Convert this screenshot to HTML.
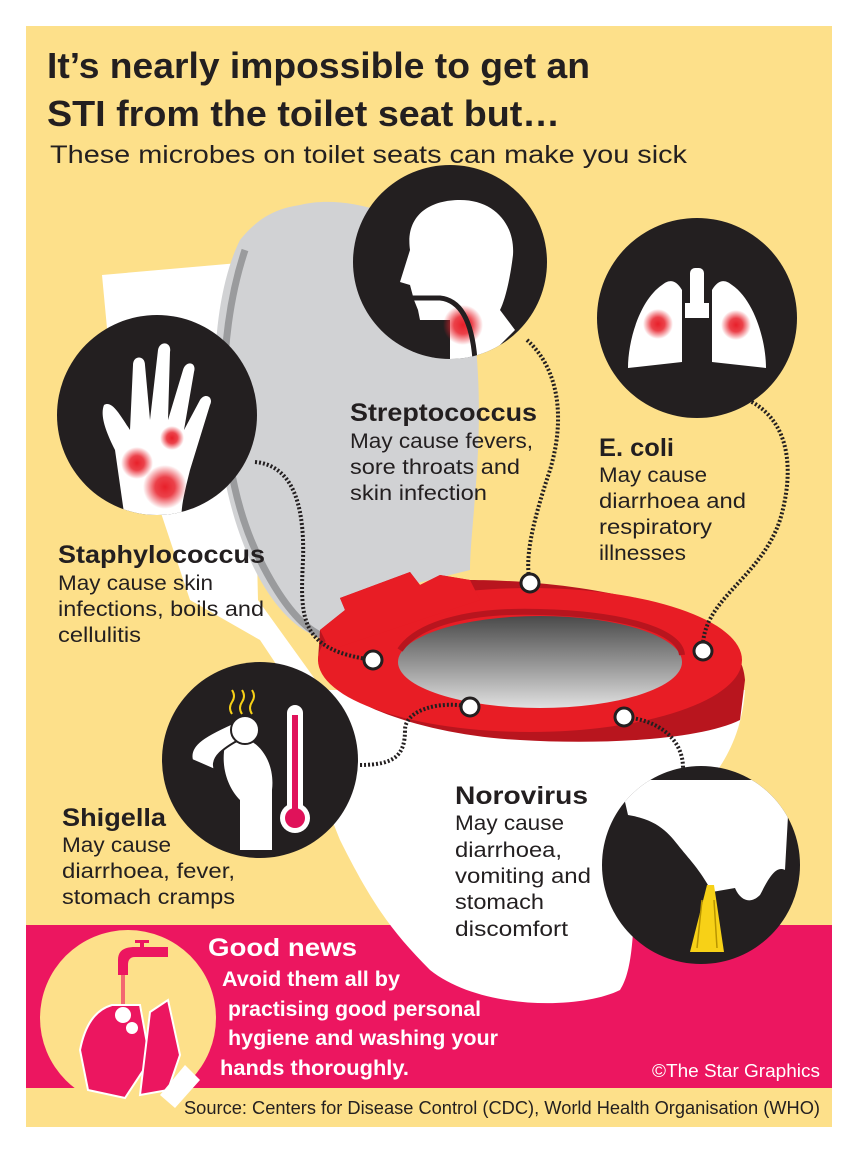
<!DOCTYPE html>
<html><head><meta charset="utf-8"><style>
html,body{margin:0;padding:0;background:#fff;}
svg{display:block;}
text{font-family:"Liberation Sans",sans-serif;}
</style></head><body>
<svg width="858" height="1150" viewBox="0 0 858 1150" xmlns="http://www.w3.org/2000/svg">
<defs>
<radialGradient id="rd"><stop offset="0" stop-color="#e8202a"/><stop offset="0.45" stop-color="#e8202a" stop-opacity="0.85"/><stop offset="1" stop-color="#e8202a" stop-opacity="0"/></radialGradient>
<linearGradient id="hole" x1="0" y1="0" x2="0" y2="1"><stop offset="0" stop-color="#4a4a4a"/><stop offset="0.55" stop-color="#9a9a9a"/><stop offset="1" stop-color="#e0e0e0"/></linearGradient>
<clipPath id="cHand"><circle cx="157" cy="415" r="100"/></clipPath>
<clipPath id="cHead"><circle cx="450" cy="262" r="97"/></clipPath>
<clipPath id="cLung"><circle cx="697" cy="318" r="100"/></clipPath>
<clipPath id="cShig"><circle cx="260" cy="760" r="98"/></clipPath>
<clipPath id="cNoro"><circle cx="701" cy="865" r="99"/></clipPath>
<clipPath id="cBand"><rect x="26" y="925" width="806" height="163"/></clipPath>
</defs>
<rect x="26" y="26" width="806" height="1101" fill="#fde08a"/>
<rect x="26" y="925" width="806" height="163" fill="#ec1660"/>

<!-- tank -->
<path d="M102 275 L250 262 L258 600 L330 700 L300 700 L260 640 L190 600 L110 360 Z" fill="#fff"/>
<!-- lid -->
<path d="M300 205 C360 190 460 230 470 300 C490 420 470 520 470 570 L350 600 L335 640 C300 640 260 600 235 520 C205 420 210 300 240 240 C260 215 280 208 300 205 Z" fill="#d1d2d4"/>
<path d="M245 250 C215 340 215 470 260 560 C280 600 300 625 320 635" stroke="#9a9b9d" stroke-width="7" fill="none"/>
<!-- bowl -->
<path d="M300 690 L745 690 C740 760 700 800 640 840 C630 880 640 960 620 990 C580 1010 480 1010 430 970 C390 930 370 900 340 840 C320 790 300 740 300 690 Z" fill="#fff"/>
<!-- seat -->
<path d="M320 630 L345 610 L340 598 L410 572 L420 585 L440 575 L470 580 C560 580 740 600 745 680 L740 720 C700 740 600 745 520 740 C420 735 325 700 318 660 Z" fill="#b8151e"/>
<ellipse cx="530" cy="660" rx="212" ry="72" fill="#e81d25"/>
<path d="M320 630 L345 610 L340 598 L410 572 L420 585 L440 575 L470 580 L480 600 L330 650 Z" fill="#e81d25"/>
<ellipse cx="540" cy="662" rx="142" ry="46" fill="url(#hole)"/>
<path d="M400 650 C420 620 480 610 540 612 C620 614 680 630 682 655" stroke="#b8151e" stroke-width="6" fill="none"/>

<!-- connectors -->
<g stroke="#231f20" stroke-width="4" stroke-dasharray="2 2" fill="none">
<path d="M255 462 C290 465 305 500 303 560 C300 620 300 650 373 660"/>
<path d="M527 340 C560 370 565 420 550 470 C530 530 525 560 530 583"/>
<path d="M748 400 C790 420 795 470 780 520 C760 580 700 600 703 651"/>
<path d="M360 765 C395 765 405 755 405 730 C405 710 440 700 470 707"/>
<path d="M624 717 C660 720 683 740 683 768"/>
</g>
<g fill="#fff" stroke="#231f20" stroke-width="3">
<circle cx="373" cy="660" r="9"/><circle cx="530" cy="583" r="9"/><circle cx="703" cy="651" r="9"/><circle cx="470" cy="707" r="9"/><circle cx="624" cy="717" r="9"/>
</g>

<!-- hand circle -->
<circle cx="157" cy="415" r="100" fill="#231f20"/>
<g clip-path="url(#cHand)">
<path d="M125 520 L115 450 C105 430 100 415 104 405 C112 400 120 415 130 430 L133 365 C133 355 145 355 145 365 L150 420 L158 350 C160 340 172 342 170 352 L168 420 L183 370 C186 360 197 362 194 372 L184 430 L200 400 C205 392 214 397 210 405 L190 470 C185 490 180 510 182 520 Z" fill="#fff"/>
<circle cx="165" cy="487" r="22" fill="url(#rd)"/>
<circle cx="137" cy="463" r="16" fill="url(#rd)"/>
<circle cx="172" cy="438" r="12" fill="url(#rd)"/>
</g>
<!-- head circle -->
<circle cx="450" cy="262" r="97" fill="#231f20"/>
<g clip-path="url(#cHead)">
<path d="M410 250 C405 215 430 200 460 200 C495 200 515 225 513 255 C510 280 505 300 500 310 L515 330 L465 380 L450 370 L450 320 L420 320 L418 310 L414 300 L410 285 L400 282 Z" fill="#fff"/>
<circle cx="463" cy="325" r="20" fill="url(#rd)"/>
<path d="M405 298 L440 298 C460 300 472 320 475 360" stroke="#231f20" stroke-width="5" fill="none"/>
</g>
<!-- lungs circle -->
<circle cx="697" cy="318" r="100" fill="#231f20"/>
<g clip-path="url(#cLung)">
<path d="M662 285 C640 300 628 340 628 368 L682 362 L682 290 C675 278 668 280 662 285 Z" fill="#fff"/>
<path d="M732 285 C754 300 766 340 766 368 L712 362 L712 290 C719 278 726 280 732 285 Z" fill="#fff"/>
<rect x="690" y="268" width="14" height="50" rx="5" fill="#fff"/>
<rect x="685" y="303" width="24" height="15" fill="#fff"/>
<circle cx="658" cy="324" r="15" fill="url(#rd)"/>
<circle cx="736" cy="325" r="15" fill="url(#rd)"/>
</g>
<!-- shigella circle -->
<circle cx="260" cy="760" r="98" fill="#231f20"/>
<g clip-path="url(#cShig)">
<path d="M225 745 C220 770 230 790 240 800 L240 850 L272 850 L272 790 C275 765 262 745 248 740 Z" fill="#fff"/>
<path d="M192 760 C188 745 205 735 240 720 L248 735 C222 748 210 758 215 770 Z" fill="#fff" stroke="#231f20" stroke-width="2"/>
<circle cx="245" cy="730" r="14" fill="#fff" stroke="#231f20" stroke-width="2"/>
<rect x="287" y="705" width="16" height="110" rx="8" fill="#fff"/>
<circle cx="295" cy="818" r="15" fill="#fff"/>
<rect x="292" y="715" width="6" height="100" fill="#e0125a"/>
<circle cx="295" cy="818" r="10" fill="#e0125a"/>
<path d="M232 690 q4 6 0 12 q-4 6 0 12 M242 690 q4 6 0 12 q-4 6 0 12 M252 690 q4 6 0 12 q-4 6 0 12" stroke="#f7d117" stroke-width="2" fill="none"/>
</g>
<!-- norovirus circle -->
<circle cx="701" cy="865" r="99" fill="#231f20"/>
<g clip-path="url(#cNoro)">
<path d="M620 780 L790 780 L785 870 C775 865 768 880 760 895 C750 905 740 900 735 888 L712 892 C700 870 690 860 682 850 C670 835 660 820 628 815 Z" fill="#fff"/>
<path d="M707 885 L714 885 L724 952 L690 952 Z" fill="#f7d117"/>
<path d="M702 900 L697 948 M714 900 L717 948" stroke="#b89400" stroke-width="1.5"/>
</g>
<!-- wash circle -->
<g clip-path="url(#cBand)">
<circle cx="128" cy="1018" r="88" fill="#fde08a"/>
</g>
<g>
<path d="M118 975 L118 960 C118 950 125 947 135 947 L168 947 L168 957 L135 957 C130 957 128 960 128 965 L128 975 Z" fill="#ec1660"/>
<rect x="140" y="940" width="4" height="10" fill="#ec1660"/><rect x="135" y="940" width="14" height="3" fill="#ec1660"/>
<rect x="121" y="975" width="4" height="30" fill="#ec1660" opacity="0.6"/>
<path d="M88 1090 L80 1050 C85 1025 95 1010 112 1005 L140 1005 L150 1060 L125 1098 Z" fill="#ec1660" stroke="#fff" stroke-width="2"/>
<path d="M150 1012 L168 1000 L180 1055 L168 1090 L140 1095 Z" fill="#ec1660" stroke="#fff" stroke-width="2"/>
<circle cx="123" cy="1015" r="8" fill="#fff"/><circle cx="132" cy="1028" r="6" fill="#fff"/>
<path d="M160 1095 L185 1065 L200 1080 L175 1108 Z" fill="#fff"/>
</g>

<!-- title -->
<text x="47" y="78" font-size="36" font-weight="bold" fill="#231f20" textLength="543" lengthAdjust="spacingAndGlyphs">It’s nearly impossible to get an</text>
<text x="47" y="126" font-size="36" font-weight="bold" fill="#231f20" textLength="513" lengthAdjust="spacingAndGlyphs">STI from the toilet seat but…</text>
<text x="50" y="163" font-size="25" fill="#231f20" textLength="637" lengthAdjust="spacingAndGlyphs">These microbes on toilet seats can make you sick</text>

<g fill="#231f20">
<text x="58" y="563" font-size="25" font-weight="bold" textLength="207" lengthAdjust="spacingAndGlyphs">Staphylococcus</text>
<text x="58" y="590" font-size="21" textLength="155" lengthAdjust="spacingAndGlyphs">May cause skin</text>
<text x="58" y="616" font-size="21" textLength="206" lengthAdjust="spacingAndGlyphs">infections, boils and</text>
<text x="58" y="642" font-size="21" textLength="83" lengthAdjust="spacingAndGlyphs">cellulitis</text>

<text x="350" y="421" font-size="25" font-weight="bold" textLength="187" lengthAdjust="spacingAndGlyphs">Streptococcus</text>
<text x="350" y="448" font-size="21" textLength="183" lengthAdjust="spacingAndGlyphs">May cause fevers,</text>
<text x="350" y="474" font-size="21" textLength="170" lengthAdjust="spacingAndGlyphs">sore throats and</text>
<text x="350" y="500" font-size="21" textLength="137" lengthAdjust="spacingAndGlyphs">skin infection</text>

<text x="599" y="456" font-size="25" font-weight="bold" textLength="75" lengthAdjust="spacingAndGlyphs">E. coli</text>
<text x="599" y="482" font-size="21" textLength="108" lengthAdjust="spacingAndGlyphs">May cause</text>
<text x="599" y="508" font-size="21" textLength="147" lengthAdjust="spacingAndGlyphs">diarrhoea and</text>
<text x="599" y="534" font-size="21" textLength="113" lengthAdjust="spacingAndGlyphs">respiratory</text>
<text x="599" y="560" font-size="21" textLength="87" lengthAdjust="spacingAndGlyphs">illnesses</text>

<text x="62" y="826" font-size="25" font-weight="bold" textLength="104" lengthAdjust="spacingAndGlyphs">Shigella</text>
<text x="62" y="852" font-size="21" textLength="109" lengthAdjust="spacingAndGlyphs">May cause</text>
<text x="62" y="878" font-size="21" textLength="173" lengthAdjust="spacingAndGlyphs">diarrhoea, fever,</text>
<text x="62" y="904" font-size="21" textLength="173" lengthAdjust="spacingAndGlyphs">stomach cramps</text>

<text x="455" y="804" font-size="25" font-weight="bold" textLength="133" lengthAdjust="spacingAndGlyphs">Norovirus</text>
<text x="455" y="830" font-size="21" textLength="109" lengthAdjust="spacingAndGlyphs">May cause</text>
<text x="455" y="857" font-size="21" textLength="107" lengthAdjust="spacingAndGlyphs">diarrhoea,</text>
<text x="455" y="883" font-size="21" textLength="136" lengthAdjust="spacingAndGlyphs">vomiting and</text>
<text x="455" y="909" font-size="21" textLength="89" lengthAdjust="spacingAndGlyphs">stomach</text>
<text x="455" y="936" font-size="21" textLength="113" lengthAdjust="spacingAndGlyphs">discomfort</text>
</g>

<g fill="#fff">
<text x="208" y="956" font-size="25" font-weight="bold" textLength="149" lengthAdjust="spacingAndGlyphs">Good news</text>
<text x="222" y="986" font-size="21" font-weight="bold" textLength="178" lengthAdjust="spacingAndGlyphs">Avoid them all by</text>
<text x="228" y="1016" font-size="21" font-weight="bold" textLength="253" lengthAdjust="spacingAndGlyphs">practising good personal</text>
<text x="228" y="1045" font-size="21" font-weight="bold" textLength="270" lengthAdjust="spacingAndGlyphs">hygiene and washing your</text>
<text x="220" y="1075" font-size="21" font-weight="bold" textLength="189" lengthAdjust="spacingAndGlyphs">hands thoroughly.</text>
<text x="652" y="1077" font-size="18" textLength="168" lengthAdjust="spacingAndGlyphs">©The Star Graphics</text>
</g>
<text x="184" y="1114" font-size="18" fill="#231f20" textLength="636" lengthAdjust="spacingAndGlyphs">Source: Centers for Disease Control (CDC), World Health Organisation (WHO)</text>
</svg>
</body></html>
